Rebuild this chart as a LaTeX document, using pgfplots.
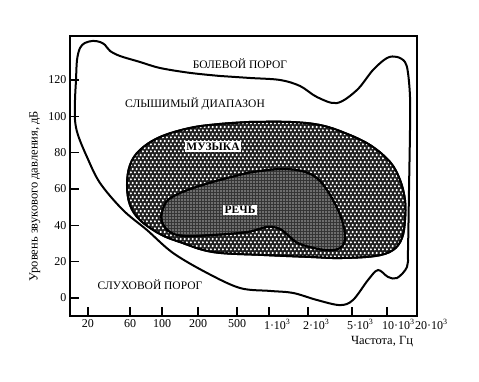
\documentclass[border=0pt]{standalone}
\usepackage{fontspec}
\setmainfont{Liberation Serif}
\usepackage{pgfplots}
\pgfplotsset{compat=1.18}
\usetikzlibrary{patterns}

\pgfdeclarepatternformonly{hexdots}{\pgfpointorigin}{\pgfpoint{4.2pt}{7.27pt}}{\pgfpoint{4.2pt}{7.27pt}}{%
 \pgfpathcircle{\pgfpoint{1.05pt}{1.82pt}}{1.35pt}%
 \pgfpathcircle{\pgfpoint{3.15pt}{5.45pt}}{1.35pt}%
 \pgfusepath{fill}}
\pgfdeclarepatternformonly{finegrid}{\pgfpointorigin}{\pgfpoint{2.5pt}{2.5pt}}{\pgfpoint{2.5pt}{2.5pt}}{%
 \pgfsetlinewidth{0.35pt}%
 \pgfpathmoveto{\pgfpoint{0pt}{1.25pt}}\pgfpathlineto{\pgfpoint{2.5pt}{1.25pt}}%
 \pgfpathmoveto{\pgfpoint{1.25pt}{0pt}}\pgfpathlineto{\pgfpoint{1.25pt}{2.5pt}}%
 \pgfusepath{stroke}}

\newcommand{\expl}[1]{\makebox[0pt][l]{\hspace{-5pt}#1·10\textsuperscript{3}}}

\begin{document}
\begin{tikzpicture}
\path[use as bounding box] (-70pt,-65pt) rectangle (409pt,316pt);
\begin{axis}[
  width=347pt, height=280pt, scale only axis,
  xmin=70, xmax=417, ymin=-9.9, ymax=144.2,
  clip=false,
  axis line style={line width=1.2pt},
  tick align=inside, major tick length=9pt,
  tick style={line width=1.5pt, black},
  xtick pos=bottom, ytick pos=left,
  xtick={88,130,162,198,237,269,308,352,387},
  xticklabels={20,60,100,200,500,\expl{1},\expl{2},\expl{5},\expl{10}},
  ytick={0,20,40,60,80,100,120},
  yticklabels={0,20,40,60,80,100,120},
  ticklabel style={font=\fontsize{12}{14}\selectfont},
]
% music
\addplot[preaction={fill=black!88}, pattern=hexdots, pattern color=white,
  draw=black, line width=2pt, smooth, tension=0.6] coordinates {
(250,96.9) (290,96.9) (320,95.2) (345,90.8) (370,84.2) (390,74.9) (400,65.0)
(405,53.9) (405,42.9) (402,33.0) (393,26.4) (375,23.1) (340,22.0) (310,22.6)
(263,23.7) (213,25.3) (180,30.8) (160,35.2) (140,42.9) (130,51.2) (127,62.2)
(130,73.2) (140,81.5) (160,88.6) (190,93.6) (220,95.8) (250,96.9)};
% speech
\addplot[preaction={fill=black!80}, pattern=finegrid, pattern color=white,
  draw=black, line width=2pt, smooth, tension=0.6] coordinates {
(247,68.8) (280,71.0) (305,69.4) (320,64.4) (333,53.9) (342,42.9) (345,33.0)
(340,27.5) (325,26.4) (300,29.7) (290,33.6) (280,38.0) (267,39.1) (247,36.3)
(213,34.7) (185,34.1) (170,36.3) (162,41.8) (162,47.3) (168,53.9) (185,58.9)
(213,63.9) (247,68.8)};
% hearing range contour
\addplot[draw=black, line width=2pt, smooth, tension=0.55] coordinates {
(220,122.2) (250,121.1) (280,120.0) (300,116.7) (317,110.6) (337,107.3)
(357,114.5) (373,125.5) (387,132.1) (397,132.7) (405,129.9) (408,123.9)
(410,110.6) (410,92.5) (409,59.4) (408,26.4) (407,17.1) (397,11.0) (388,11.6)
(378,15.4) (368,9.9) (353,-1.1) (340,-3.9) (317,-1.1) (293,2.8) (270,3.9)
(240,5.5) (207,13.8) (173,24.8) (147,37.4) (123,48.4) (100,63.3) (87,77.6)
(78,89.7) (75,98.0) (75,109.0) (76,120.0) (77,131.0) (80,137.6) (85,140.4)
(93,141.5) (100,140.9) (105,139.3) (110,136.0) (120,133.2) (140,129.9)
(160,126.6) (190,123.9) (220,122.2)};
\draw[line width=2.2pt] (rel axis cs:0,1) -- (rel axis cs:0,0) -- (rel axis cs:1,0);
\node[font=\fontsize{11.5}{13}\selectfont] at (axis cs:240,128.8) {БОЛЕВОЙ ПОРОГ};
\node[font=\fontsize{11.5}{13}\selectfont] at (axis cs:195,106.8) {СЛЫШИМЫЙ ДИАПАЗОН};
\node[font=\fontsize{11.5}{13}\selectfont] at (axis cs:150,7.2) {СЛУХОВОЙ ПОРОГ};
\node[fill=white, inner sep=1.5pt, font=\bfseries\fontsize{11.5}{13}\selectfont] at (axis cs:213,83.4) {МУЗЫКА};
\node[fill=white, inner sep=1.5pt, font=\bfseries\fontsize{11.5}{13}\selectfont] at (axis cs:240,48.4) {РЕЧЬ};
\node[anchor=north, font=\fontsize{12}{14}\selectfont] at (axis cs:420,-9.9) {\expl{20}};
\node[font=\fontsize{12.5}{14}\selectfont] at (axis cs:382,-24.2) {Частота, Гц};
\node[rotate=90, font=\fontsize{12.5}{14}\selectfont] at (axis cs:35,56.1) {Уровень звукового давления, дБ};
\end{axis}
\end{tikzpicture}
\end{document}
